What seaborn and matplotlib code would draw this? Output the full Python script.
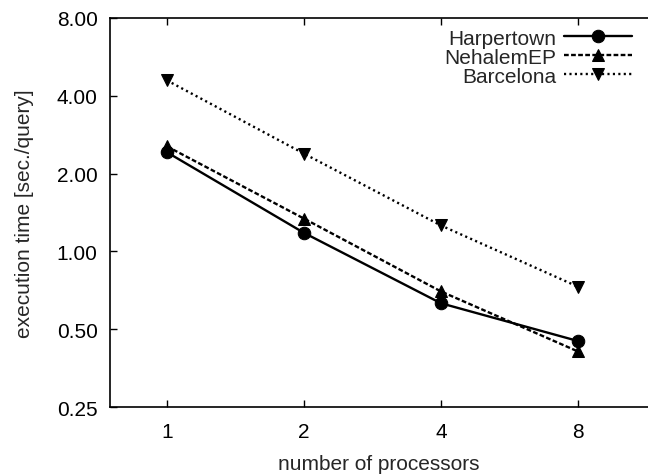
import numpy as np
import pandas as pd
import seaborn as sns
import matplotlib
matplotlib.use('Agg')
import matplotlib.pyplot as plt
from matplotlib.ticker import FixedLocator, FixedFormatter, NullLocator

# datos
procesadores = [1, 2, 4, 8]
harpertown = [2.42, 1.18, 0.63, 0.45]
nehalem = [2.55, 1.34, 0.70, 0.41]
barcelona = [4.59, 2.39, 1.26, 0.73]

y_ticks = [0.25, 0.5, 1.0, 2.0, 4.0, 8.0]
y_labels = ['0.25', '0.50', '1.00', '2.00', '4.00', '8.00']

df = pd.DataFrame({
    'procesadores': procesadores * 3,
    'tiempo': harpertown + nehalem + barcelona,
    'sistema': ['Harpertown'] * 4 + ['NehalemEP'] * 4 + ['Barcelona'] * 4,
})

sns.set_style('ticks')
plt.rcParams['font.family'] = ['Liberation Sans', 'DejaVu Sans']

fs = 15

fig = plt.figure(figsize=(6.48, 4.77), dpi=100)
ax = fig.add_axes([110 / 648, 1 - 408 / 477, 1 - 110 / 648, (408 - 19) / 477])

estilos = {
    'Harpertown': dict(marker='o', ls='-'),
    'NehalemEP': dict(marker='^', ls=(0, (2.0, 1.0))),
    'Barcelona': dict(marker='v', ls=(0, (0.9, 1.4))),
}

for nombre, est in estilos.items():
    sub = df[df['sistema'] == nombre]
    sns.lineplot(data=sub, x='procesadores', y='tiempo', ax=ax, color='black',
                 marker=est['marker'], markersize=9, linewidth=1.7,
                 linestyle=est['ls'], markeredgecolor='black', label=nombre)

ax.set_xscale('log', base=2)
ax.set_yscale('log', base=2)
ax.set_xlim(0.75, 11.4)
ax.set_ylim(0.25, 8)

ax.xaxis.set_major_locator(FixedLocator(procesadores))
ax.xaxis.set_major_formatter(FixedFormatter([str(p) for p in procesadores]))
ax.xaxis.set_minor_locator(NullLocator())
ax.yaxis.set_major_locator(FixedLocator(y_ticks))
ax.yaxis.set_major_formatter(FixedFormatter(y_labels))
ax.yaxis.set_minor_locator(NullLocator())

ax.tick_params(direction='in', length=5, width=1, top=True, right=False,
               labelsize=fs, colors='black')
ax.tick_params(axis='x', pad=11)
ax.tick_params(axis='y', pad=9)
for lado in ['left', 'bottom', 'top']:
    ax.spines[lado].set_linewidth(1.2)
    ax.spines[lado].set_color('black')
ax.spines['right'].set_visible(False)

ax.set_xlabel('number of processors', fontsize=fs, labelpad=9)
ax.set_ylabel('execution time [sec./query]', fontsize=fs, labelpad=16)

ax.legend(loc='upper right', frameon=False, markerfirst=False, fontsize=fs,
          handlelength=3.3, handletextpad=0.35, labelspacing=0.0,
          borderaxespad=0.2, bbox_to_anchor=(0.994, 1.005))

plt.savefig('out.png', dpi=100)
